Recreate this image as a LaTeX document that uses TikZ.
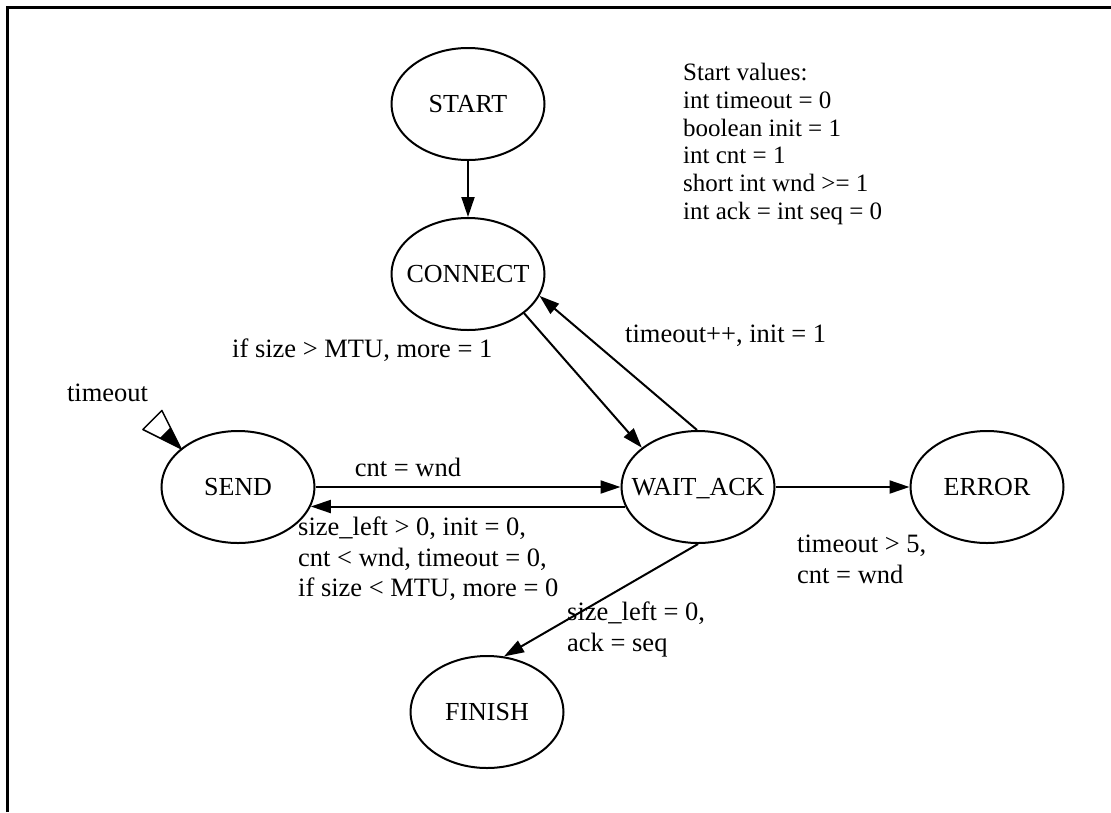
\documentclass[tikz,border=0pt]{standalone}
\usepackage{fontspec}
\setmainfont{Liberation Serif}
\usetikzlibrary{arrows.meta,shapes.geometric}

% state name set in a zero-width box so every ellipse keeps the same size
\newcommand{\statename}[1]{\makebox[0pt][c]{#1}}

\begin{document}
\begin{tikzpicture}[x=1pt,y=-1pt,
  state/.style={ellipse,draw,line width=2pt,minimum width=153pt,minimum height=112pt,
    inner sep=0pt,font=\fontsize{26}{30}\selectfont,text depth=0pt},
  trans/.style={line width=2pt,-{Triangle[length=20pt,width=13pt]}},
  lbl/.style={font=\fontsize{26.5}{30.5}\selectfont,inner sep=0pt,align=left},
  note/.style={font=\fontsize{25}{27.8}\selectfont,inner sep=0pt,align=left},
]
\useasboundingbox (0,0) rectangle (1111,812);
% page frame
\draw[line width=3pt] (7,812) -- (7,7) -- (1111,7);

% states
\node[state] (start)   at (468,104) {\statename{START}};
\node[state] (connect) at (468,274) {\statename{CONNECT}};
\node[state] (send)    at (238,487) {\statename{SEND}};
\node[state] (wait)    at (698,487) {\statename{WAIT\_ACK}};
\node[state] (error)   at (987,487) {\statename{ERROR}};
\node[state] (finish)  at (487,712) {\statename{FINISH}};

% transitions
\draw[trans] (start) -- (connect);
\draw[trans] (connect.-35) -- (wait.145);
\draw[trans] (wait.91) -- (connect.-17);
\draw[trans] (send) -- (wait);
\draw[trans] (wait.-165) -- (send.-15);
\draw[trans] (wait) -- (error);
\draw[trans] (wait.south) -- (finish.73);

% timeout entry marker on SEND
\coordinate (tip) at (send.146);
\draw[line width=1.5pt,fill=white,line join=round] (tip) -- ++(-38,-19) -- ++(19,-19) -- cycle;
\fill (tip) -- ++(-21,-10.5) -- ++(10.5,-10.5) -- cycle;

% labels
\node[lbl,anchor=base] (tolbl) at (107.5,401) {timeout};
\node[lbl,anchor=base west] (lsize) at (232,357) {if size > MTU, more = 1};
\node[lbl,anchor=base west] (lretry) at (625,342) {timeout++, init = 1};
\node[lbl,anchor=base] (lsend) at (408,476) {cnt = wnd};
\node[lbl,anchor=north west] (lback) at (298,517)
  {size\_left > 0, init = 0,\\cnt < wnd, timeout = 0,\\if size < MTU, more = 0};
\node[lbl,anchor=north west] (lerr) at (797,535) {timeout > 5,\\cnt = wnd};
\node[lbl,anchor=north west] (lfin) at (567,602) {size\_left = 0,\\ack = seq};

% initial values
\node[note,anchor=north west] (init) at (683,63)
  {Start values:\\int timeout = 0\\boolean init = 1\\int cnt = 1\\short int wnd >= 1\\int ack = int seq = 0};
\end{tikzpicture}
\end{document}
